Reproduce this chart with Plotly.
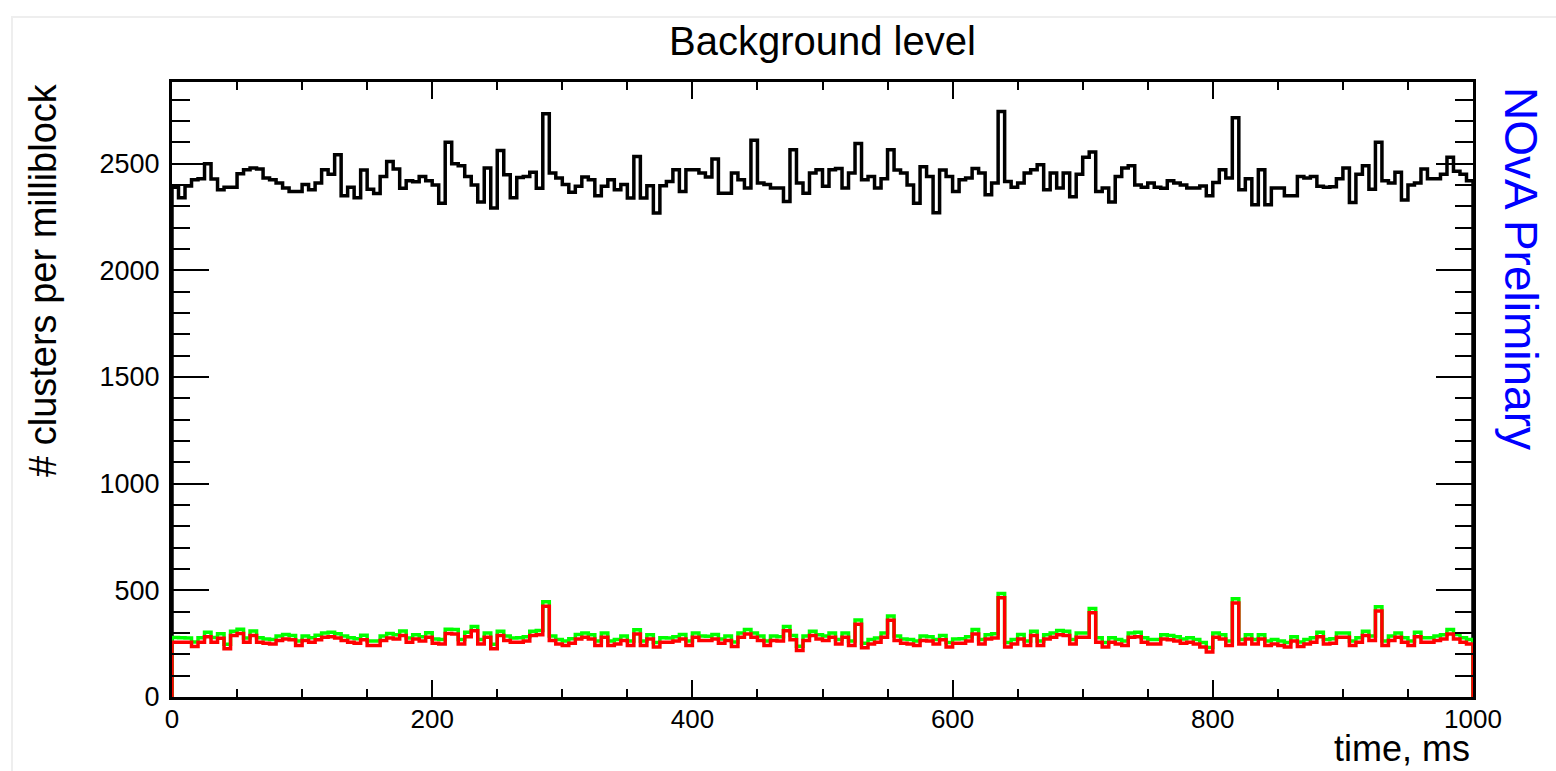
import numpy as np
import plotly.graph_objects as go

# 200 bins of 5 ms over one 1000 ms window
bin_width_ms = 5.0
t_max_ms = 1000.0

# all clusters per millisecond block (black)
all_clusters = [
    2390, 2340, 2395, 2425, 2430, 2500, 2428, 2378, 2390, 2390,
    2453, 2472, 2480, 2475, 2433, 2425, 2410, 2386, 2370, 2370,
    2402, 2378, 2410, 2472, 2450, 2542, 2350, 2390, 2340, 2470,
    2380, 2360, 2440, 2510, 2475, 2385, 2420, 2415, 2440, 2420,
    2400, 2315, 2600, 2500, 2490, 2440, 2400, 2320, 2480, 2292,
    2562, 2448, 2340, 2435, 2440, 2460, 2385, 2734, 2456, 2433,
    2402, 2366, 2394, 2438, 2425, 2350, 2394, 2425, 2378, 2402,
    2339, 2534, 2339, 2397, 2269, 2397, 2417, 2472, 2370, 2472,
    2472, 2456, 2438, 2522, 2362, 2362, 2456, 2425, 2386, 2610,
    2410, 2402, 2386, 2386, 2323, 2565, 2410, 2362, 2456, 2472,
    2394, 2472, 2478, 2386, 2456, 2595, 2425, 2440, 2386, 2430,
    2565, 2470, 2456, 2400, 2315, 2486, 2440, 2270, 2470, 2440,
    2370, 2425, 2433, 2478, 2456, 2355, 2410, 2745, 2417, 2390,
    2410, 2456, 2472, 2495, 2378, 2456, 2386, 2456, 2345, 2450,
    2530, 2555, 2370, 2386, 2320, 2440, 2480, 2490, 2400, 2390,
    2410, 2390, 2385, 2420, 2410, 2400, 2386, 2386, 2395, 2350,
    2412, 2472, 2433, 2715, 2378, 2430, 2308, 2472, 2308, 2386,
    2386, 2350, 2350, 2440, 2433, 2440, 2394, 2390, 2392, 2430,
    2480, 2318, 2450, 2490, 2380, 2600, 2420, 2410, 2460, 2330,
    2400, 2410, 2475, 2430, 2430, 2450, 2530, 2465, 2450, 2420,
]

# clusters passing the first selection (green)
selected_loose = [
    279, 278, 276, 258, 278, 303, 279, 297, 247, 308,
    318, 277, 309, 278, 272, 270, 286, 293, 288, 263,
    286, 278, 289, 300, 304, 297, 286, 278, 273, 289,
    262, 263, 286, 298, 292, 309, 277, 292, 283, 301,
    272, 270, 318, 316, 270, 303, 331, 270, 300, 247,
    308, 286, 277, 278, 283, 308, 312, 446, 286, 270,
    262, 273, 293, 300, 292, 263, 300, 262, 270, 286,
    263, 315, 262, 292, 255, 278, 277, 283, 293, 263,
    300, 286, 285, 293, 272, 286, 258, 300, 316, 300,
    286, 262, 286, 283, 331, 288, 238, 286, 308, 292,
    286, 300, 270, 300, 262, 361, 252, 270, 277, 300,
    380, 286, 272, 270, 262, 286, 283, 270, 288, 255,
    272, 273, 283, 316, 270, 292, 297, 485, 255, 270,
    293, 262, 308, 263, 292, 300, 312, 308, 270, 300,
    300, 415, 278, 255, 278, 270, 263, 300, 303, 278,
    270, 270, 292, 288, 283, 272, 278, 270, 255, 232,
    300, 292, 263, 461, 270, 292, 270, 292, 262, 270,
    263, 255, 283, 258, 270, 278, 303, 270, 273, 300,
    300, 262, 278, 308, 286, 423, 262, 286, 300, 278,
    262, 303, 278, 278, 286, 292, 316, 293, 278, 270,
]

# clusters passing the final selection (red)
selected_tight = [
    257, 257, 257, 237, 257, 283, 257, 275, 226, 288,
    298, 257, 288, 257, 252, 249, 265, 272, 268, 242,
    265, 257, 268, 280, 283, 277, 265, 257, 252, 268,
    242, 242, 265, 277, 272, 288, 257, 272, 262, 280,
    252, 249, 298, 295, 249, 283, 311, 249, 280, 226,
    288, 265, 257, 257, 262, 288, 292, 426, 265, 249,
    242, 252, 272, 280, 272, 242, 280, 242, 249, 265,
    242, 295, 242, 272, 234, 257, 257, 262, 272, 242,
    280, 265, 265, 272, 252, 265, 237, 280, 295, 280,
    265, 242, 265, 262, 311, 268, 218, 265, 288, 272,
    265, 280, 249, 280, 242, 341, 231, 249, 257, 280,
    360, 265, 252, 249, 242, 265, 262, 249, 268, 234,
    252, 252, 262, 295, 249, 272, 277, 465, 234, 249,
    272, 242, 288, 242, 272, 280, 292, 288, 249, 280,
    280, 395, 257, 234, 257, 249, 242, 280, 283, 257,
    249, 249, 272, 268, 262, 252, 257, 249, 234, 211,
    280, 272, 242, 441, 249, 272, 249, 272, 242, 249,
    242, 234, 262, 237, 249, 257, 283, 249, 252, 280,
    280, 242, 257, 288, 265, 403, 242, 265, 280, 257,
    242, 283, 257, 257, 265, 272, 295, 272, 257, 249,
]

x_ticks = [0, 200, 400, 600, 800, 1000]
y_ticks = [0, 500, 1000, 1500, 2000, 2500]

FONT = "Liberation Sans, Arial, Helvetica, sans-serif"
W, H = 1556, 771
L, R, T, B = 172, 83, 82, 74
PW, PH = W - L - R, H - T - B


def px_x(px):
    return (px - L) / PW


def px_y(py):
    return (H - B - py) / PH


def step_xy(values):
    """Histogram outline as an 'hv' step path, closed to zero at both ends."""
    edges = np.arange(len(values)) * bin_width_ms
    xs = np.concatenate([[0.0], edges, [t_max_ms, t_max_ms]])
    ys = np.concatenate([[0.0], values, [values[-1], 0.0]])
    return xs, ys


fig = go.Figure()
for vals, colour in [(all_clusters, "#000000"),
                     (selected_loose, "#00ff00"),
                     (selected_tight, "#ff0000")]:
    xs, ys = step_xy(vals)
    fig.add_trace(go.Scatter(x=xs, y=ys, mode="lines",
                             line=dict(color=colour, width=3.5, shape="hv"),
                             hoverinfo="skip", showlegend=False))

axis_common = dict(showgrid=False, zeroline=False, showline=True,
                   linecolor="black", linewidth=3, mirror="allticks",
                   ticks="inside", tickcolor="black", tickwidth=2)

fig.update_xaxes(range=[0, t_max_ms], tickvals=x_ticks,
                 ticktext=[str(v) for v in x_ticks], ticklen=17,
                 minor=dict(ticks="inside", ticklen=8, dtick=50,
                            tickcolor="black", tickwidth=2),
                 tickfont=dict(family=FONT, size=26, color="black"),
                 ticklabelstandoff=-3, **axis_common)
fig.update_yaxes(range=[0, 2883], tickvals=y_ticks,
                 ticktext=[str(v) for v in y_ticks], ticklen=37,
                 minor=dict(ticks="inside", ticklen=18, dtick=100,
                            tickcolor="black", tickwidth=2),
                 tickfont=dict(family=FONT, size=27, color="black"),
                 ticklabelstandoff=4, **axis_common)

annotations = [
    dict(text="Background level", x=px_x(822), y=px_y(41),
         xanchor="center", yanchor="middle",
         font=dict(family=FONT, size=40, color="black")),
    dict(text="# clusters per milliblock", x=px_x(43), y=px_y(280),
         textangle=-90, xanchor="center", yanchor="middle",
         font=dict(family=FONT, size=38, color="black")),
    dict(text="time, ms", x=px_x(1472), y=px_y(771),
         xanchor="right", yanchor="bottom",
         font=dict(family=FONT, size=36, color="black")),
    dict(text="NOvA Preliminary", x=px_x(1521), y=px_y(268),
         textangle=90, xanchor="center", yanchor="middle",
         font=dict(family=FONT, size=46, color="#0000ff")),
]
for a in annotations:
    a.update(xref="paper", yref="paper", showarrow=False)

fig.update_layout(
    width=W, height=H,
    margin=dict(l=L, r=R, t=T, b=B, pad=0),
    paper_bgcolor="white", plot_bgcolor="white",
    annotations=annotations,
    shapes=[dict(type="rect", xref="paper", yref="paper",
                 x0=px_x(12), x1=px_x(1600), y0=px_y(17), y1=px_y(800),
                 line=dict(color="#eeeeee", width=2), layer="below")],
)

fig.write_html("out.html")
